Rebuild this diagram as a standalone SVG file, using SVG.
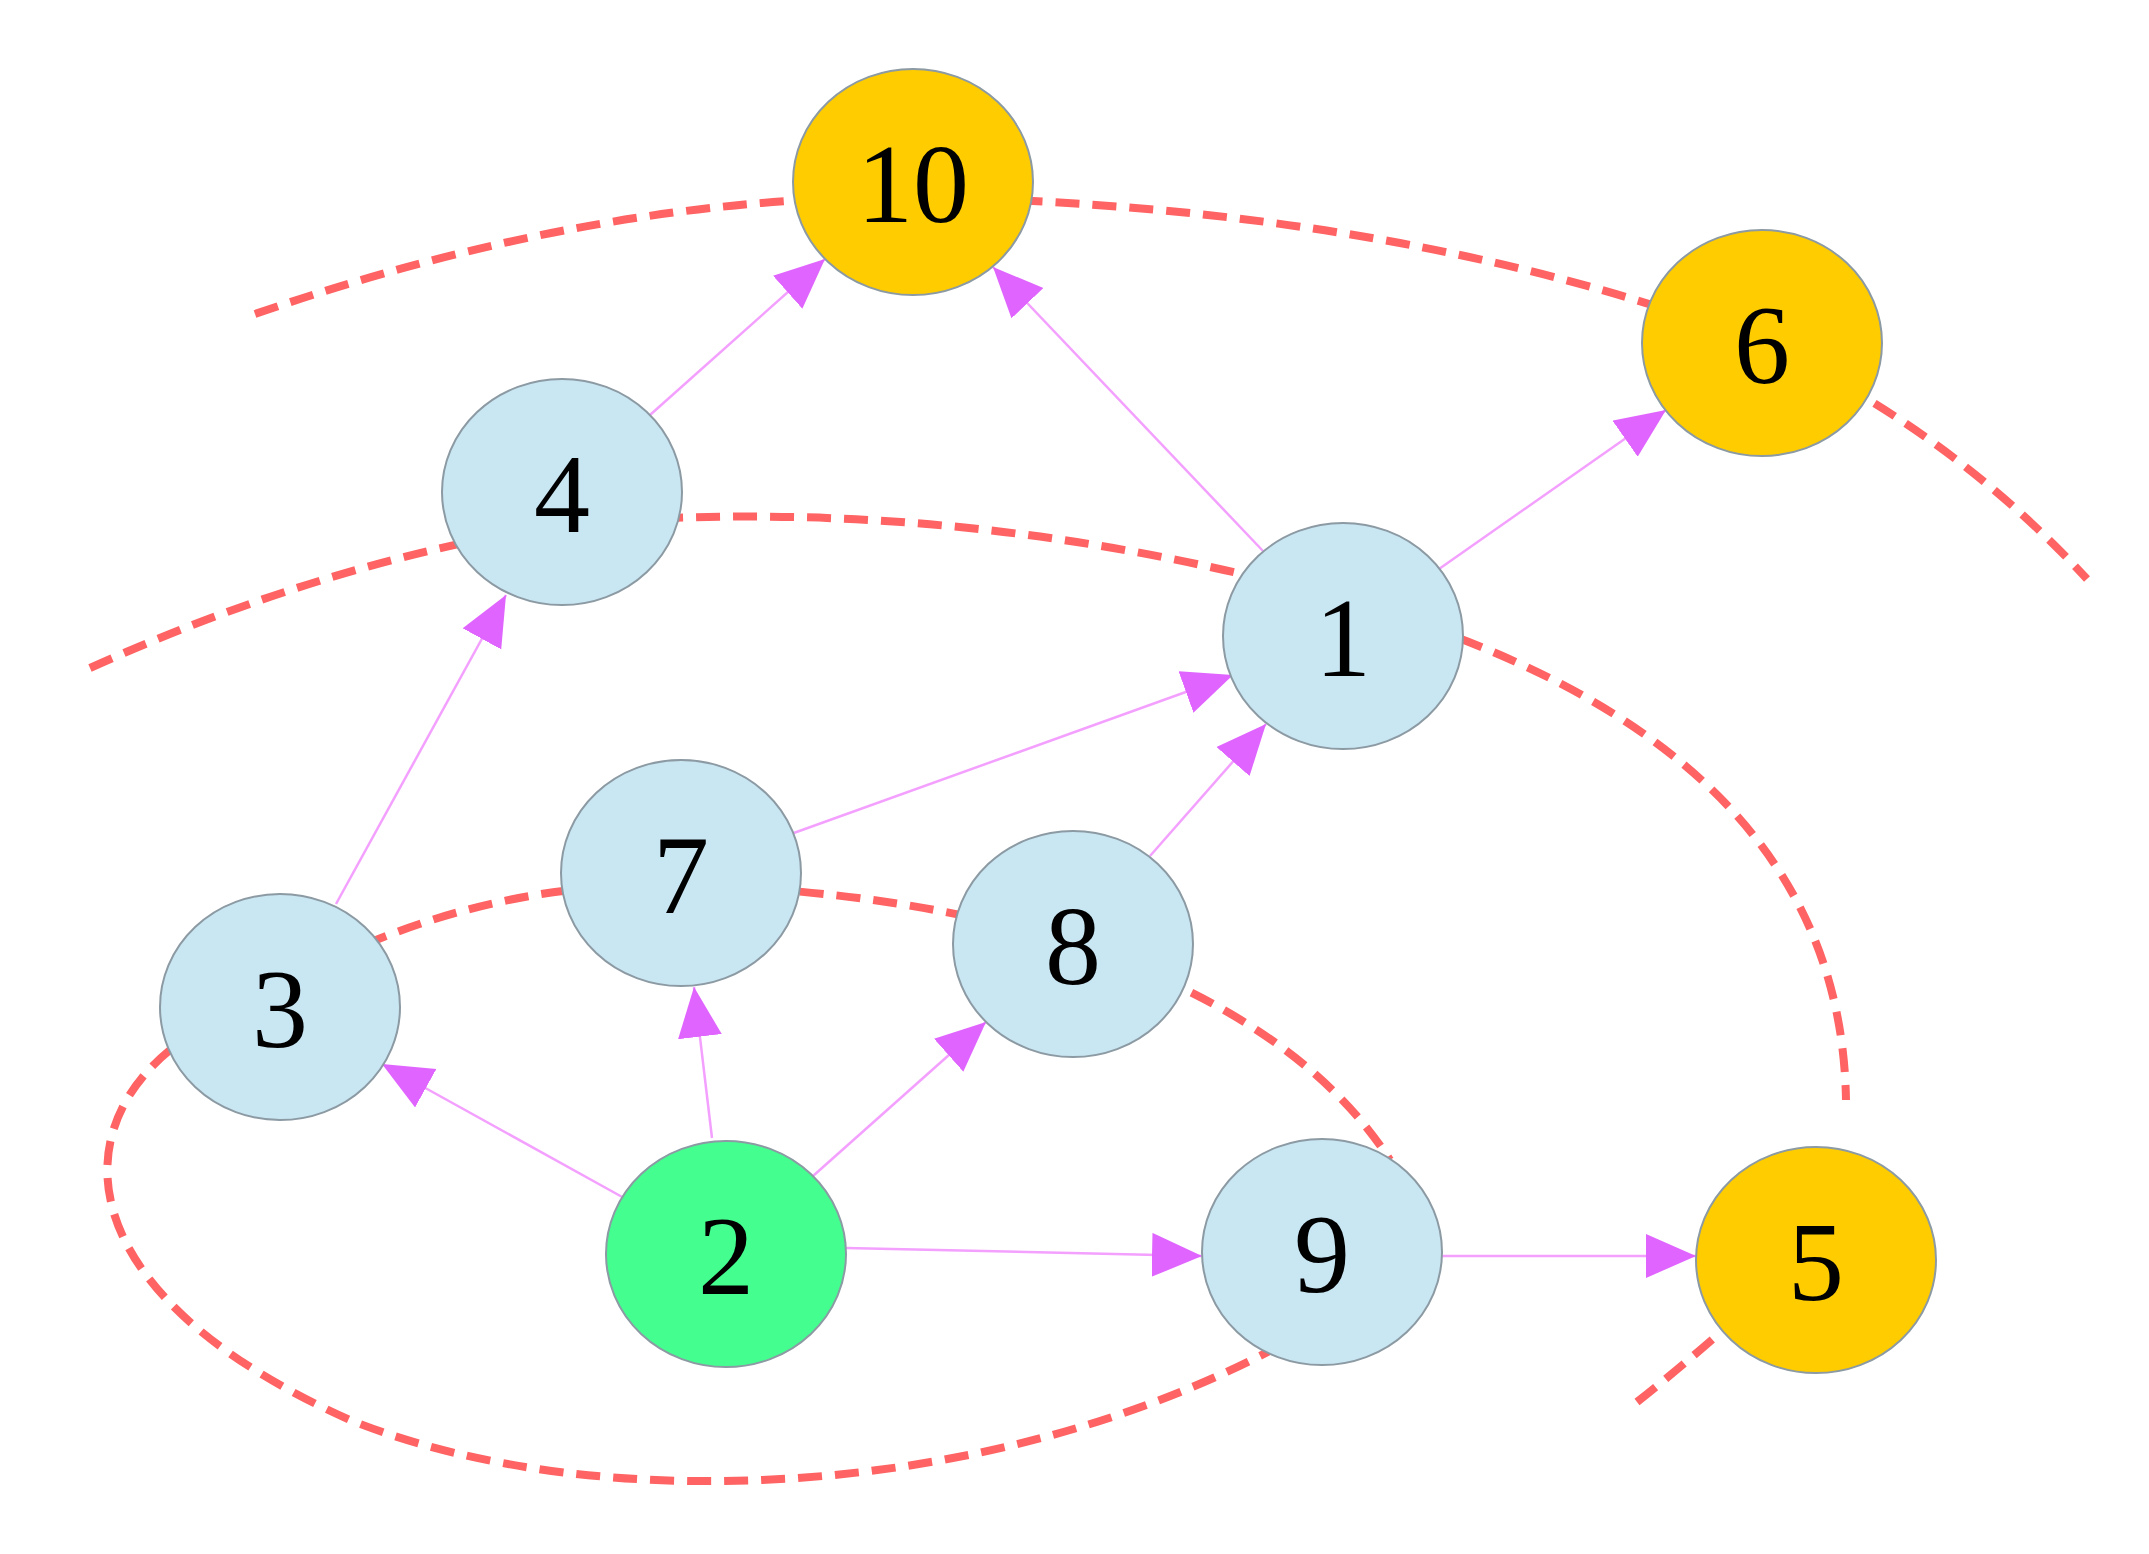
<svg xmlns="http://www.w3.org/2000/svg" width="2149" height="1554" viewBox="0 0 2149 1554">
<style>
.d{fill:none;stroke:#ff6363;stroke-width:8;stroke-dasharray:24 13}
.e{stroke:#f3a0ff;stroke-width:2.5;fill:none;marker-end:url(#a)}
.n ellipse{stroke:#8c9aa3;stroke-width:2}
.b{fill:#c9e6f3}.y{fill:#ffcc00}.g{fill:#44ff90}
text{font-family:"Liberation Serif","Times New Roman",serif;font-size:112px;text-anchor:middle;fill:#000}
</style>
<defs><marker id="a" markerUnits="userSpaceOnUse" markerWidth="52" markerHeight="46" refX="50" refY="22" orient="auto"><path d="M0,0 L50,22 L0,44 z" fill="#e064ff"/></marker></defs>
<g id="dashed">
<path class="d" d="M255,314 Q600,195 913,197 Q1400,205 1762,343 Q1950,430 2087,579"/>
<path class="d" d="M90,668 Q330,560 562,525 Q950,490 1343,600 Q1840,740 1846,1100"/>
<path class="d" d="M1740,1315 Q1690,1360 1637,1402"/>
<path class="d" d="M330,960 Q500,880 681,885 Q900,890 1073,944 Q1300,1020 1390,1160"/>
<path class="d" d="M170,1050 C60,1140 80,1300 350,1420 C600,1520 1000,1500 1290,1340"/>
</g>
<g id="edges">
<line class="e" x1="650" y1="415" x2="825" y2="259"/>
<line class="e" x1="1263" y1="551" x2="993" y2="267"/>
<line class="e" x1="1439" y1="569" x2="1666" y2="410"/>
<line class="e" x1="336" y1="904" x2="506" y2="595"/>
<line class="e" x1="791" y1="834" x2="1233" y2="675"/>
<line class="e" x1="1150" y1="856" x2="1266" y2="724"/>
<line class="e" x1="624" y1="1198" x2="382" y2="1064"/>
<line class="e" x1="712" y1="1138" x2="694" y2="987"/>
<line class="e" x1="813" y1="1176" x2="986" y2="1022"/>
<line class="e" x1="846" y1="1248" x2="1202" y2="1256"/>
<line class="e" x1="1442" y1="1256" x2="1696" y2="1256"/>
</g>
<g id="n10" class="n"><ellipse class="y" cx="913" cy="182" rx="120" ry="113"/><text x="913" y="222">10</text></g>
<g id="n6" class="n"><ellipse class="y" cx="1762" cy="343" rx="120" ry="113"/><text x="1762" y="383">6</text></g>
<g id="n4" class="n"><ellipse class="b" cx="562" cy="492" rx="120" ry="113"/><text x="562" y="532">4</text></g>
<g id="n1" class="n"><ellipse class="b" cx="1343" cy="636" rx="120" ry="113"/><text x="1343" y="676">1</text></g>
<g id="n7" class="n"><ellipse class="b" cx="681" cy="873" rx="120" ry="113"/><text x="681" y="913">7</text></g>
<g id="n8" class="n"><ellipse class="b" cx="1073" cy="944" rx="120" ry="113"/><text x="1073" y="984">8</text></g>
<g id="n3" class="n"><ellipse class="b" cx="280" cy="1007" rx="120" ry="113"/><text x="280" y="1047">3</text></g>
<g id="n2" class="n"><ellipse class="g" cx="726" cy="1254" rx="120" ry="113"/><text x="726" y="1294">2</text></g>
<g id="n9" class="n"><ellipse class="b" cx="1322" cy="1252" rx="120" ry="113"/><text x="1322" y="1292">9</text></g>
<g id="n5" class="n"><ellipse class="y" cx="1816" cy="1260" rx="120" ry="113"/><text x="1816" y="1300">5</text></g>
</svg>
